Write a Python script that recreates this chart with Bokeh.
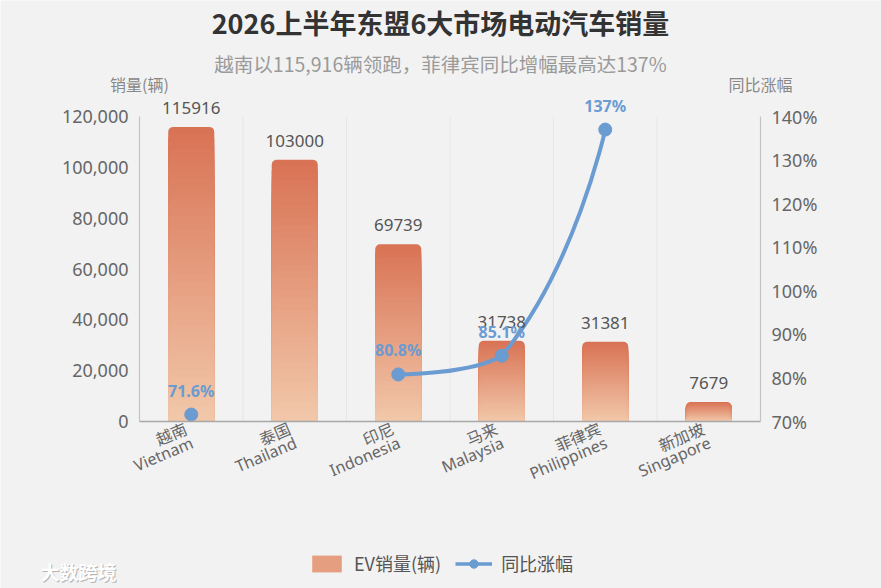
import math
from bokeh.plotting import figure
from bokeh.models import (Range1d, LinearAxis, FixedTicker, NumeralTickFormatter,
                          PrintfTickFormatter, ColumnDataSource, LabelSet, Label,
                          Legend, LegendItem)
from bokeh.core.properties import value
from bokeh.embed import file_html
from bokeh.resources import INLINE

# ---------------- data ----------------
countries_cn = ["越南", "泰国", "印尼", "马来", "菲律宾", "新加坡"]
countries_en = ["Vietnam", "Thailand", "Indonesia", "Malaysia", "Philippines", "Singapore"]
sales = [115916, 103000, 69739, 31738, 31381, 7679]
yoy = [71.6, None, 80.8, 85.1, 137, None]
yoy_labels = ["71.6%", None, "80.8%", "85.1%", "137%", None]
left_ticks = [0, 20000, 40000, 60000, 80000, 100000, 120000]
right_ticks = [70, 80, 90, 100, 110, 120, 130, 140]

title_text = "2026上半年东盟6大市场电动汽车销量"
subtitle_text = "越南以115,916辆领跑，菲律宾同比增幅最高达137%"
left_name = "销量(辆)"
right_name = "同比涨幅"
legend_bar = "EV销量(辆)"
legend_line = "同比涨幅"
watermark = "大数跨境"

# ---------------- layout / style ----------------
BG = "#f2f2f2"
FONT = "Noto Sans CJK SC"
MIXF = "Noto Sans, Noto Sans CJK SC"
BLUE = "#6a9bd1"
TOP_RGB = (217, 114, 84)
BOT_RGB = (242, 200, 170)
W, H = 881, 588
PL, PR, PT, PB = 139, 760, 116, 421      # plot area in canvas pixels
NC = len(countries_cn)
PXC = (PR - PL) / NC
YMIN, YMAX = left_ticks[0], left_ticks[-1]
RMIN, RMAX = right_ticks[0], right_ticks[-1]
PXY = (PB - PT) / (YMAX - YMIN)
PXR = (PB - PT) / (RMAX - RMIN)

x_range = Range1d(-PL / PXC, NC + (W - PR) / PXC)
y_range = Range1d(YMIN - (H - PB) / PXY, YMAX + PT / PXY)
r_range = Range1d(RMIN - (H - PB) / PXR, RMAX + PT / PXR)

p = figure(width=W, height=H, output_backend="svg", toolbar_location=None,
           x_range=x_range, y_range=y_range,
           min_border=0, min_border_left=0, min_border_right=0,
           min_border_top=0, min_border_bottom=0,
           background_fill_color=BG, border_fill_color=BG, outline_line_color=None)
p.extra_y_ranges = {"pct": r_range}
p.xgrid.visible = False
p.ygrid.visible = False

# x axis: line only, at y = 0
xa = p.xaxis[0]
xa.fixed_location = 0
xa.bounds = (0, NC)
xa.ticker = FixedTicker(ticks=[])
xa.axis_line_color = "#a8a8a8"
xa.axis_line_width = 1.5
xa.major_tick_line_color = None
xa.minor_tick_line_color = None
xa.major_label_text_font_size = "0px"


def style_y(ax):
    ax.axis_line_color = "#c4c4c4"
    ax.axis_line_width = 1.2
    ax.major_tick_line_color = None
    ax.minor_tick_line_color = None
    ax.major_tick_out = 0
    ax.major_tick_in = 0
    ax.minor_tick_out = 0
    ax.major_label_standoff = 11
    ax.major_label_text_font = MIXF
    ax.major_label_text_font_size = "18px"
    ax.major_label_text_color = "#666666"


ya = p.yaxis[0]
ya.fixed_location = 0
ya.bounds = (YMIN, YMAX)
ya.ticker = FixedTicker(ticks=left_ticks)
ya.formatter = NumeralTickFormatter(format="0,0")
style_y(ya)

ra = LinearAxis(y_range_name="pct", ticker=FixedTicker(ticks=right_ticks),
                formatter=PrintfTickFormatter(format="%d%%"),
                fixed_location=NC, bounds=(RMIN, RMAX))
style_y(ra)
p.add_layout(ra, "right")

# faint vertical separators between categories
sep = list(range(1, NC))
p.segment(x0=sep, y0=[YMIN] * len(sep), x1=sep, y1=[YMAX] * len(sep),
          line_color="#e6e6e6", line_width=1)

# ---------------- gradient bars (stacked layers) ----------------
N = 40
BAR_W = 0.445


def mix(f):
    r = [round(BOT_RGB[j] + (TOP_RGB[j] - BOT_RGB[j]) * f) for j in range(3)]
    return "#%02x%02x%02x" % tuple(r)


lx, ltop, lcol = [], [], []
for k in range(N):
    f = 1 - k / N
    for i, v in enumerate(sales):
        lx.append(i + 0.5)
        ltop.append(v * f)
        lcol.append(mix(f - 0.5 / N))
bars = p.vbar(x="x", top="top", bottom=0, width=BAR_W, fill_color="c", line_color=None,
              border_radius=(5, 5, 0, 0),
              source=ColumnDataSource(dict(x=lx, top=ltop, c=lcol)))

# ---------------- YoY smooth line ----------------
SMOOTH = 0.5
segments, cur = [], []
for i, v in enumerate(yoy):
    if v is None:
        if cur:
            segments.append(cur)
        cur = []
    else:
        cur.append(((i + 0.5) * PXC, v * PXR))
if cur:
    segments.append(cur)


def clamp(a, lo, hi):
    return max(lo, min(hi, a))


bz = dict(x0=[], y0=[], x1=[], y1=[], cx0=[], cy0=[], cx1=[], cy1=[])
for seg in segments:
    if len(seg) < 2:
        continue
    cp0 = seg[0]
    for j in range(1, len(seg)):
        x, y = seg[j]
        px, py = seg[j - 1]
        if j == len(seg) - 1:
            cp1 = (x, y)
            ncp0 = None
        else:
            nx, ny = seg[j + 1]
            vx, vy = nx - px, ny - py
            lp = math.hypot(x - px, y - py)
            ln = math.hypot(nx - x, ny - y)
            r = ln / (ln + lp)
            ncx = clamp(x + vx * SMOOTH * r, min(nx, x), max(nx, x))
            ncy = clamp(y + vy * SMOOTH * r, min(ny, y), max(ny, y))
            cx1 = clamp(x - (ncx - x) * lp / ln, min(px, x), max(px, x))
            cy1 = clamp(y - (ncy - y) * lp / ln, min(py, y), max(py, y))
            cp1 = (cx1, cy1)
            ncp0 = (ncx, ncy)
        bz["x0"].append(px / PXC); bz["y0"].append(py / PXR)
        bz["x1"].append(x / PXC); bz["y1"].append(y / PXR)
        bz["cx0"].append(cp0[0] / PXC); bz["cy0"].append(cp0[1] / PXR)
        bz["cx1"].append(cp1[0] / PXC); bz["cy1"].append(cp1[1] / PXR)
        cp0 = ncp0

p.bezier(x0="x0", y0="y0", x1="x1", y1="y1", cx0="cx0", cy0="cy0", cx1="cx1", cy1="cy1",
         source=ColumnDataSource(bz), y_range_name="pct", line_color=BLUE, line_width=4)

px_pts = [i + 0.5 for i, v in enumerate(yoy) if v is not None]
py_pts = [v for v in yoy if v is not None]
pl_pts = [yoy_labels[i] for i, v in enumerate(yoy) if v is not None]
pts = p.scatter(px_pts, py_pts, y_range_name="pct", size=13, fill_color=BLUE, line_color=BLUE)
# invisible line (no drawable point) used only for the legend icon
line_proxy = p.line(x=[px_pts[0]], y=[float("nan")], y_range_name="pct",
                    line_color=BLUE, line_width=3.5)

# ---------------- labels ----------------
p.add_layout(LabelSet(x="x", y="y", text="t", y_offset=19,
                      source=ColumnDataSource(dict(x=[i + 0.5 for i in range(NC)], y=sales,
                                                   t=[str(v) for v in sales])),
                      text_align="center", text_baseline="middle", text_font=value(MIXF),
                      text_font_size="17px", text_color="#555555"))

p.add_layout(LabelSet(x="x", y="y", text="t", y_offset=24, y_range_name="pct",
                      source=ColumnDataSource(dict(x=px_pts, y=py_pts, t=pl_pts)),
                      text_align="center", text_baseline="middle", text_font=value(MIXF),
                      text_font_size="16px", text_font_style="bold", text_color=BLUE))

# rotated two-line category labels (right aligned)
ANG = math.radians(23)
LH = 15
xc = [i + 0.5 for i in range(NC)]
for txts, (dx, dy) in ((countries_cn, (-5.0, -6.5)),
                       (countries_en, (-5.0 + LH * math.sin(ANG), -6.5 - LH * math.cos(ANG)))):
    p.add_layout(LabelSet(x="x", y="y", text="t", x_offset=dx, y_offset=dy, angle=ANG,
                          source=ColumnDataSource(dict(x=xc, y=[YMIN] * NC, t=txts)),
                          text_align="right", text_baseline="middle", text_font=value(MIXF),
                          text_font_size="16px", text_color="#666666"))


def txt(xp, yp, text, size, color, bold=False, align="center", font=FONT):
    p.add_layout(Label(x=xp, y=H - yp, x_units="screen", y_units="screen", text=text,
                       text_align=align, text_baseline="middle", text_font=font,
                       text_font_size=size, text_font_style="bold" if bold else "normal",
                       text_color=color))


txt(440, 22, title_text, "27px", "#333333", bold=True)
txt(440, 63, subtitle_text, "19.5px", "#9a9a9a")
txt(PL, 83, left_name, "16px", "#888888")
txt(PR, 83, right_name, "16px", "#888888")
txt(41, 572, watermark, "19px", "#b5b5b5", bold=True, align="left")
txt(40, 571, watermark, "19px", "#ffffff", bold=True, align="left")

mid_idx = (N // 2) * NC
legend = Legend(items=[LegendItem(label=legend_bar, renderers=[bars], index=mid_idx),
                       LegendItem(label=legend_line, renderers=[line_proxy, pts], index=0)],
                orientation="horizontal", location=(308, 12),
                background_fill_alpha=0, border_line_alpha=0,
                label_text_font=FONT, label_text_font_size="18px", label_text_color="#555555",
                glyph_width=37, glyph_height=21, label_height=21, label_standoff=9, spacing=14,
                padding=0, margin=0)
p.add_layout(legend, "center")

html = file_html(p, INLINE)
html = html.replace("<body>", '<body style="background-color:#f2f2f2;">', 1)
open("out.html", "w").write(html)
